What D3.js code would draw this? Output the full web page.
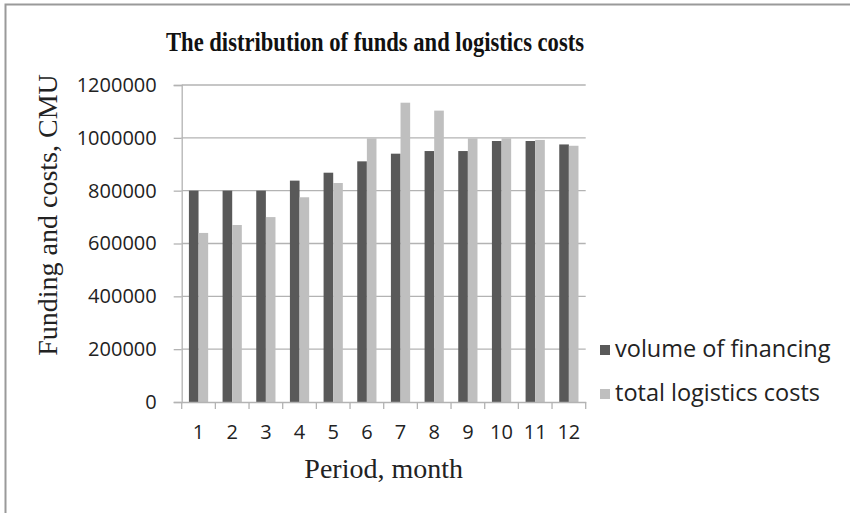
<!DOCTYPE html>
<html>
<head>
<meta charset="utf-8">
<script src="https://cdn.jsdelivr.net/npm/d3@7"></script>
<style>
  body { margin: 0; background: #fff; overflow: hidden; }
  svg { display: block; }
</style>
</head>
<body>
<div id="chart"></div>
<script>
const months = ["1", "2", "3", "4", "5", "6", "7", "8", "9", "10", "11", "12"]
const financing = [800000, 800000, 800000, 838000, 868000, 911000, 940000, 950000, 950000, 988000, 988000, 975000]
const logistics = [640000, 670000, 700000, 775000, 829000, 998000, 1133000, 1103000, 998000, 998000, 992000, 970000]
const seriesNames = ["volume of financing", "total logistics costs"]
const yTicks = [0, 200000, 400000, 600000, 800000, 1000000, 1200000]

const width = 850
const height = 513
const plot = { left: 181.7, right: 585.7, top: 85, bottom: 402 }
const colors = ["#595959", "#bfbfbf"]
const gridColor = "#b3b3b3"

const svg = d3.select("#chart").append("svg")
  .attr("width", width)
  .attr("height", height)

// outer frame: only the top and left edges are inside the picture
svg.append("path")
  .attr("d", "M5.5," + height + "V4.5H" + width)
  .attr("fill", "none")
  .attr("stroke", "#9a9a9a")
  .attr("stroke-width", 2)

const x = d3.scaleBand()
  .domain(months)
  .range([plot.left, plot.right])

const y = d3.scaleLinear()
  .domain([0, 1200000])
  .range([plot.bottom, plot.top])

// gridlines + y ticks
const yAxis = d3.axisLeft(y)
  .tickValues(yTicks)
  .tickFormat(d3.format("d"))
  .tickSize(8)
  .tickPadding(17)

const gy = svg.append("g")
  .attr("transform", "translate(" + plot.left + ",0)")
  .call(yAxis)
gy.select(".domain").attr("stroke", gridColor).attr("stroke-width", 1.3)
gy.selectAll(".tick line").attr("stroke", gridColor).attr("stroke-width", 1.3)
gy.selectAll(".tick text")
  .attr("font-family", "'Open Sans', sans-serif")
  .attr("font-size", 20)
  .attr("fill", "#222")

svg.append("g")
  .selectAll("line")
  .data(yTicks.filter(d => d > 0))
  .join("line")
  .attr("x1", plot.left).attr("x2", plot.right)
  .attr("y1", d => y(d)).attr("y2", d => y(d))
  .attr("stroke", gridColor)
  .attr("stroke-width", 1.3)

// bars: pair width = band / 3.5 each (gap width 150%)
const barW = x.bandwidth() / 3.5
const groups = svg.append("g")
  .selectAll("g")
  .data(months.map((m, i) => ({ m, vals: [financing[i], logistics[i]] })))
  .join("g")
  .attr("transform", d => "translate(" + (x(d.m) + barW * 0.75) + ",0)")

groups.selectAll("rect")
  .data(d => d.vals.map((v, k) => ({ v, k })))
  .join("rect")
  .attr("x", d => d.k * barW)
  .attr("y", d => y(d.v))
  .attr("width", barW)
  .attr("height", d => y(0) - y(d.v))
  .attr("fill", d => colors[d.k])

// x axis
const xAxis = d3.axisBottom(x).tickSize(0).tickPadding(23)
const gx = svg.append("g")
  .attr("transform", "translate(0," + plot.bottom + ")")
  .call(xAxis)
gx.select(".domain").attr("stroke", gridColor).attr("stroke-width", 1.3)
gx.selectAll(".tick text")
  .attr("font-family", "'Open Sans', sans-serif")
  .attr("font-size", 20)
  .attr("fill", "#222")

// category boundary ticks
gx.append("g")
  .selectAll("line")
  .data(months.map(m => x(m)).concat([plot.right]))
  .join("line")
  .attr("x1", d => d).attr("x2", d => d)
  .attr("y1", 0).attr("y2", 7)
  .attr("stroke", gridColor)
  .attr("stroke-width", 1.3)

// title
svg.append("text")
  .attr("x", 375).attr("y", 51)
  .attr("text-anchor", "middle")
  .attr("font-family", "'Liberation Serif', serif")
  .attr("font-weight", "bold")
  .attr("font-size", 27)
  .attr("textLength", 418)
  .attr("lengthAdjust", "spacingAndGlyphs")
  .attr("fill", "#111")
  .text("The distribution of funds and logistics costs")

// axis titles
svg.append("text")
  .attr("x", 383.7).attr("y", 478)
  .attr("text-anchor", "middle")
  .attr("font-family", "'Liberation Serif', serif")
  .attr("font-size", 28)
  .attr("fill", "#222")
  .text("Period, month")

svg.append("text")
  .attr("transform", "translate(57,215) rotate(-90)")
  .attr("text-anchor", "middle")
  .attr("font-family", "'Liberation Serif', serif")
  .attr("font-size", 28)
  .attr("fill", "#222")
  .text("Funding and costs, CMU")

// legend
const legend = svg.append("g")
  .selectAll("g")
  .data(seriesNames)
  .join("g")
  .attr("transform", (d, i) => "translate(600," + (345 + i * 44) + ")")

legend.append("rect")
  .attr("width", 10).attr("height", 10)
  .attr("fill", (d, i) => colors[i])

legend.append("text")
  .attr("x", 15).attr("y", 12)
  .attr("font-family", "'Open Sans', sans-serif")
  .attr("font-size", 23.5)
  .attr("fill", "#222")
  .text(d => d)
</script>
</body>
</html>
